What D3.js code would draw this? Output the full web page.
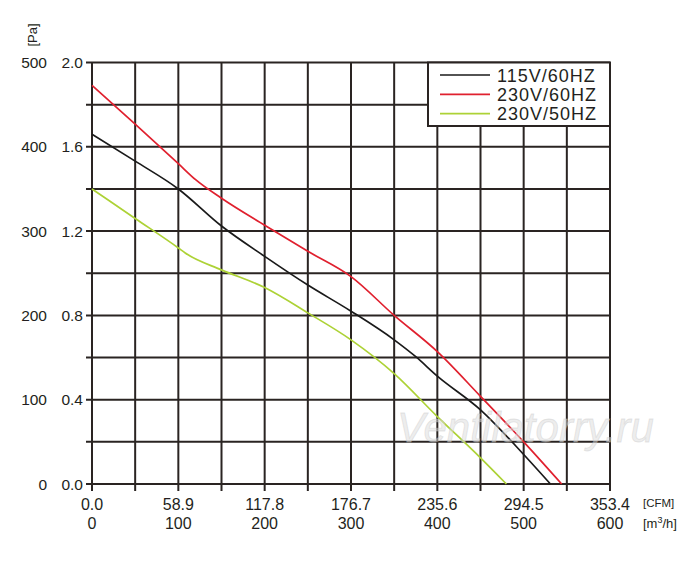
<!DOCTYPE html>
<html lang="en">
<head>
<meta charset="UTF-8">
<title>Fan curve</title>
<style>
  body { margin: 0; background: #fff; }
  text { font-family: "Liberation Sans", Arial, sans-serif; fill: #231f20; }
</style>
</head>
<body>
<div id="chart"></div>
<script src="https://d3js.org/d3.v7.min.js"></script>
<script>
// airflow in m3/h, pressure in Pa
let seriesNames = ['115V/60HZ', '230V/60HZ', '230V/50HZ'];
let seriesColors = ['#1a1a1a', '#e0202e', '#add236'];

let flow115v60 = [0, 50, 100, 150, 200, 250, 300, 350, 375, 400, 450, 500, 531];
let pres115v60 = [415, 383, 350, 306, 270, 236, 205, 171, 151, 128, 88, 35, 0];

let flow230v60 = [0, 50, 100, 120, 150, 200, 250, 300, 350, 400, 450, 500, 544];
let pres230v60 = [473, 427, 380, 361, 339, 307, 276, 246, 200, 157, 104, 50, 0];

let flow230v50 = [0, 50, 100, 108, 150, 200, 250, 300, 350, 400, 450, 480];
let pres230v50 = [350, 315, 280, 274, 254, 233, 203, 171, 131, 80, 31, 0];

let m3hTicks = [0, 100, 200, 300, 400, 500, 600];
let cfmLabels = ['0.0', '58.9', '117.8', '176.7', '235.6', '294.5', '353.4'];
let paTicks = [0, 100, 200, 300, 400, 500];
let inchLabels = ['0.0', '0.4', '0.8', '1.2', '1.6', '2.0'];

let svgWidth = 700, svgHeight = 564;
let plotLeft = 92, plotRight = 610, plotTop = 62.5, plotBottom = 484;

let xScale = d3.scaleLinear().domain([0, 600]).range([plotLeft, plotRight]);
let yScale = d3.scaleLinear().domain([0, 500]).range([plotBottom, plotTop]);

let svg = d3.select('#chart').append('svg')
    .attr('width', svgWidth)
    .attr('height', svgHeight);

// grid, every 50 on both axes, lines run past the frame as ticks
let grid = svg.append('g').attr('stroke', '#2a2422').attr('stroke-width', 2);
grid.selectAll('.vline')
    .data(d3.range(0, 601, 50))
    .enter().append('line')
    .attr('x1', d => xScale(d)).attr('x2', d => xScale(d))
    .attr('y1', plotTop).attr('y2', plotBottom + 7);
grid.selectAll('.hline')
    .data(d3.range(0, 501, 50))
    .enter().append('line')
    .attr('y1', d => yScale(d)).attr('y2', d => yScale(d))
    .attr('x1', plotLeft - 6).attr('x2', plotRight);

// left labels
svg.selectAll('.pa')
    .data(paTicks)
    .enter().append('text')
    .attr('x', 47).attr('y', d => yScale(d) + 5.5)
    .attr('text-anchor', 'end').attr('font-size', 15.5)
    .text(d => d);
svg.selectAll('.inch')
    .data(paTicks)
    .enter().append('text')
    .attr('x', 83).attr('y', d => yScale(d) + 5.5)
    .attr('text-anchor', 'end').attr('font-size', 15.5)
    .text((d, i) => inchLabels[i]);
svg.append('text')
    .attr('transform', 'translate(37,35) rotate(-90)')
    .attr('text-anchor', 'middle').attr('font-size', 13)
    .text('[Pa]');

// bottom labels
svg.selectAll('.cfm')
    .data(m3hTicks)
    .enter().append('text')
    .attr('x', d => xScale(d)).attr('y', 510)
    .attr('text-anchor', 'middle').attr('font-size', 16)
    .text((d, i) => cfmLabels[i]);
svg.selectAll('.m3h')
    .data(m3hTicks)
    .enter().append('text')
    .attr('x', d => xScale(d)).attr('y', 529)
    .attr('text-anchor', 'middle').attr('font-size', 16)
    .text(d => d);
svg.append('text').attr('x', 643).attr('y', 507).attr('font-size', 11.5).text('[CFM]');
let unit = svg.append('text').attr('x', 643).attr('y', 528).attr('font-size', 13);
unit.append('tspan').text('[m');
unit.append('tspan').attr('dy', -5).attr('font-size', 9).text('3');
unit.append('tspan').attr('dy', 5).text('/h]');

// curves
let flows = [flow115v60, flow230v60, flow230v50];
let pressures = [pres115v60, pres230v60, pres230v50];
let line = d3.line()
    .x(d => xScale(d[0]))
    .y(d => yScale(d[1]))
    .curve(d3.curveMonotoneX);

flows.forEach((f, i) => {
    svg.append('path')
        .datum(f.map((q, j) => [q, pressures[i][j]]))
        .attr('fill', 'none')
        .attr('stroke', seriesColors[i])
        .attr('stroke-width', 1.7)
        .attr('d', line);
});

// watermark
svg.append('text')
    .attr('x', 397).attr('y', 442)
    .attr('font-family', '"Liberation Serif", serif')
    .attr('font-style', 'italic')
    .attr('font-size', 42)
    .style('fill', 'rgba(220,220,220,0.5)')
    .style('stroke', 'rgba(195,195,195,0.4)')
    .attr('stroke-width', 0.8)
    .text('Ventilatorry.ru');

// legend
let lg = svg.append('g');
lg.append('rect')
    .attr('x', 428).attr('y', plotTop).attr('width', 182).attr('height', 63.5)
    .attr('fill', '#fff').attr('stroke', '#2a2422').attr('stroke-width', 2);
seriesNames.forEach((name, i) => {
    let yy = 75 + i * 19.3;
    lg.append('line')
        .attr('x1', 440).attr('x2', 490).attr('y1', yy).attr('y2', yy)
        .attr('stroke', seriesColors[i]).attr('stroke-width', 1.7);
    lg.append('text')
        .attr('x', 497).attr('y', yy + 6.5)
        .attr('font-size', 18)
        .attr('letter-spacing', 1)
        .text(name);
});
</script>
</body>
</html>
